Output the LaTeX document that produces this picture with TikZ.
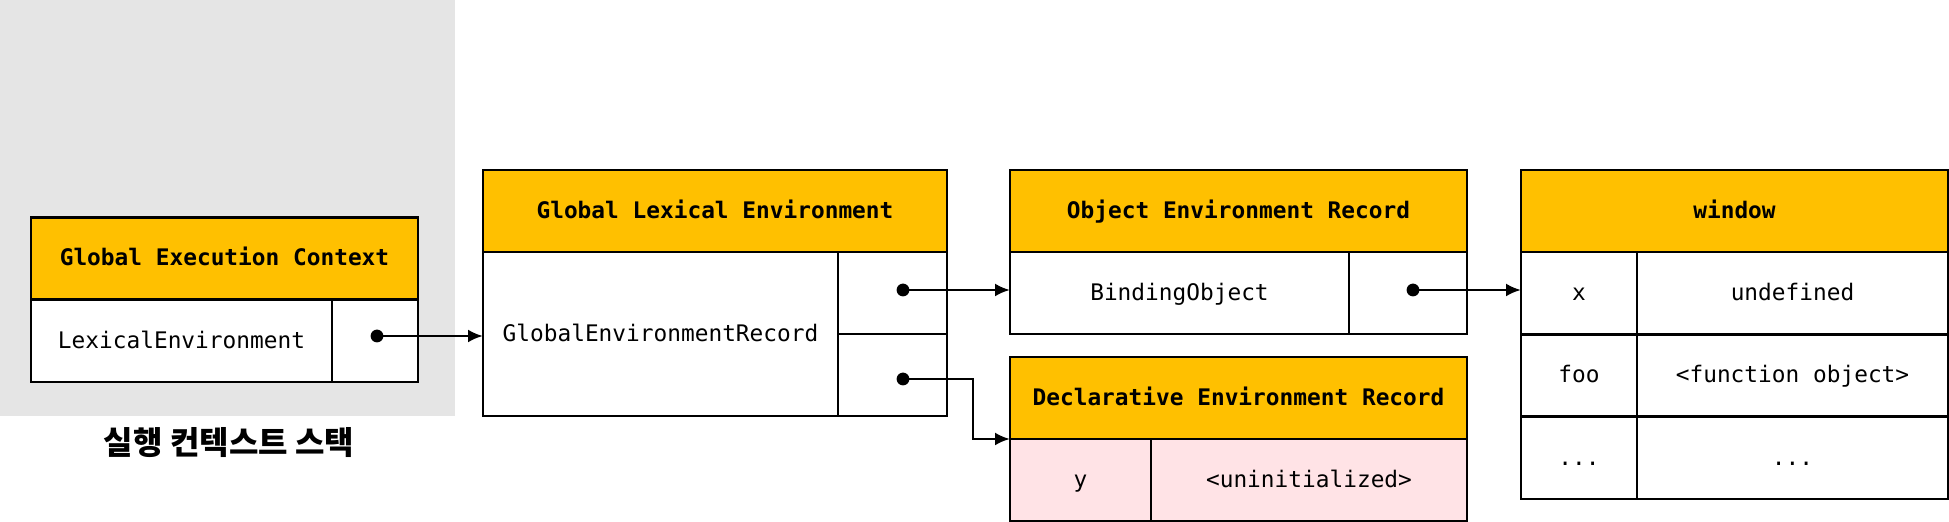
\documentclass[tikz,border=0pt]{standalone}
\usepackage{fontspec}
\setmonofont{DejaVu Sans Mono}
\newfontfamily\kofont{Noto Sans CJK KR}
\usepackage{tikz}
\usetikzlibrary{arrows.meta}
\definecolor{hdrorange}{HTML}{FFC000}
\definecolor{stackgray}{HTML}{E5E5E5}
\definecolor{tdzpink}{HTML}{FFE3E6}
\begin{document}
\begin{tikzpicture}[x=0.5pt, y=-0.5pt,
  box/.style={draw, line width=1.2pt, inner sep=0pt, outer sep=0pt, minimum height=41pt,
    text height=9.5pt, text depth=2pt,
    font=\ttfamily\fontsize{11.4}{13}\selectfont},
  hdr/.style={box, fill=hdrorange, font=\ttfamily\bfseries\fontsize{11.4}{13}\selectfont},
  cell/.style={box, fill=white},
  tdz/.style={box, fill=tdzpink},
  ref/.style={line width=1.3pt, -{Latex[length=7.5pt,width=6.5pt]}},
  auto]
  \useasboundingbox (0,0) rectangle (1949,522);
  \fill[stackgray] (0,0) rectangle (455,416);

  % execution context stack
  \node (gec) [hdr, minimum width=193.5pt] at (224.5,258.5) {Global Execution Context};
  \node (gec-le) [cell, minimum width=150.5pt] at (181.5,341) {LexicalEnvironment};
  \node (gec-ptr) [cell, minimum width=43pt] at (375,341) {};
  \node (stack) at (229,443) {\kofont\bfseries\fontsize{16}{18}\selectfont 실행 컨텍스트 스택};

  % global lexical environment
  \node (gle) [hdr, minimum width=232pt] at (715,211) {Global Lexical Environment};
  \node (gle-rec) [cell, minimum width=177.5pt, minimum height=82pt] at (660.5,334) {GlobalEnvironmentRecord};
  \node (gle-obj) [cell, minimum width=54.5pt] at (892.5,293) {};
  \node (gle-decl) [cell, minimum width=54.5pt] at (892.5,375) {};

  % object environment record
  \node (oer) [hdr, minimum width=228.5pt] at (1238.5,211) {Object Environment Record};
  \node (oer-bind) [cell, minimum width=169.5pt] at (1179.5,293) {BindingObject};
  \node (oer-ptr) [cell, minimum width=59pt] at (1408,293) {};

  % declarative environment record
  \node (der) [hdr, minimum width=228.5pt] at (1238.5,398) {Declarative Environment Record};
  \node (der-y) [tdz, minimum width=70.5pt] at (1080.5,480) {y};
  \node (der-yv) [tdz, minimum width=158pt] at (1309,480) {<uninitialized>};

  % window
  \node (win) [hdr, minimum width=213.5pt] at (1734.5,211) {window};
  \node (win-x) [cell, minimum width=58pt] at (1579,293) {x};
  \node (win-xv) [cell, minimum width=155.5pt] at (1792.5,293) {undefined};
  \node (win-foo) [cell, minimum width=58pt] at (1579,375.5) {foo};
  \node (win-foov) [cell, minimum width=155.5pt] at (1792.5,375.5) {<function object>};
  \node (win-etc) [cell, minimum width=58pt] at (1579,458) {...};
  \node (win-etcv) [cell, minimum width=155.5pt] at (1792.5,458) {...};

  % pointers
  \coordinate (p-le) at (377,336);
  \coordinate (p-obj) at (903,290);
  \coordinate (p-decl) at (903,379);
  \coordinate (p-bind) at (1413,290);
  \foreach \p in {p-le, p-obj, p-decl, p-bind}
    \fill (\p) circle (3.2pt);
  \draw[ref] (p-le) -- (p-le -| gle-rec.west);
  \draw[ref] (p-obj) -- (p-obj -| oer-bind.west);
  \draw[ref] (p-decl) -- ++(70,0) |- (der.south west);
  \draw[ref] (p-bind) -- (p-bind -| win-x.west);
\end{tikzpicture}
\end{document}
